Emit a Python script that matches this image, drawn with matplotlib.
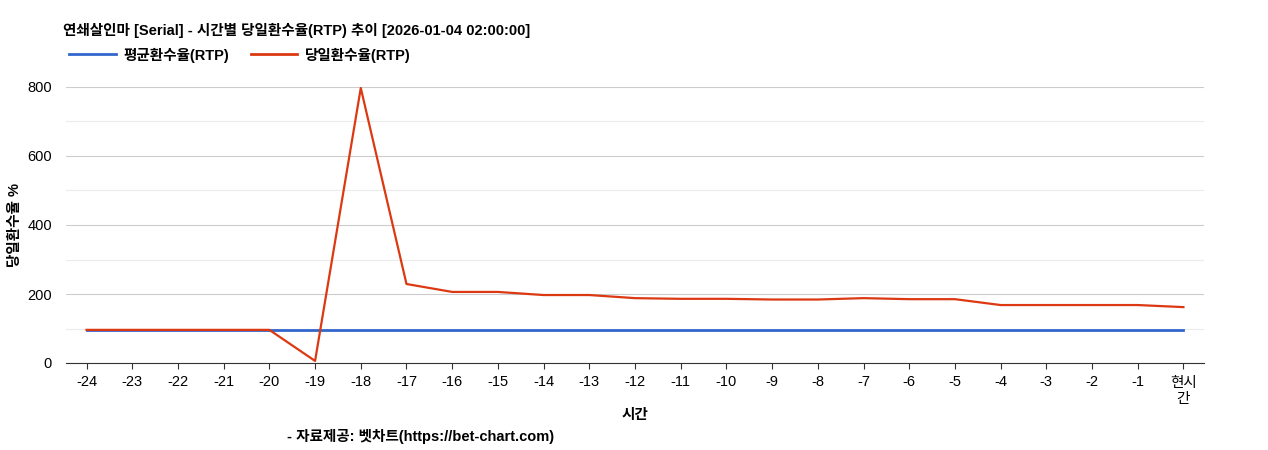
import matplotlib
matplotlib.use("Agg")
from matplotlib import pyplot as plt
from matplotlib.lines import Line2D

plt.rcParams["font.family"] = ["Liberation Sans", "Noto Sans CJK KR", "DejaVu Sans"]

categories = [str(i) for i in range(-24, 0)] + ["현시\n간"]
avg_rtp = [96] * 25
day_rtp = [96, 96, 96, 96, 96, 6, 797, 229, 206, 206, 197, 197, 188, 186, 186,
           184, 184, 188, 185, 185, 168, 168, 168, 168, 162]

fig = plt.figure(figsize=(12.68, 4.5), dpi=100)
ax = fig.add_axes([66 / 1268, 1 - 363 / 450, (1204 - 66) / 1268, (363 - 87) / 450])

x = list(range(len(categories)))
ax.plot(x, avg_rtp, color="#3366cc", lw=2)
ax.plot(x, day_rtp, color="#dc3912", lw=1.6)

ax.set_xlim(-0.45, len(categories) - 0.55)
ax.set_ylim(0, 800)
ax.set_yticks([0, 200, 400, 600, 800])
ax.set_yticks([100, 300, 500, 700], minor=True)
ax.grid(axis="y", which="major", color="#cccccc", lw=0.8)
ax.grid(axis="y", which="minor", color="#ebebeb", lw=0.8)
ax.set_axisbelow(True)
ax.set_xticks(x)
ax.set_xticklabels(categories, fontsize=10.5)
ax.tick_params(axis="y", which="both", labelsize=10.5, length=0, pad=10)
ax.tick_params(axis="x", length=4, color="#333333", pad=5)
for s in ["top", "right", "left"]:
    ax.spines[s].set_visible(False)
ax.spines["bottom"].set_color("#333333")

fig.text(15 / 1268, 1 - 225 / 450, "당일환수율 %", rotation=90, ha="center", va="center",
         fontsize=10.5, fontweight="bold")
fig.text(635 / 1268, 1 - 415 / 450, "시간", ha="center", va="center",
         fontsize=10.5, fontweight="bold")
fig.text(421 / 1268, 1 - 437 / 450, "- 자료제공: 벳차트(https://bet-chart.com)",
         ha="center", va="center", fontsize=10.5, fontweight="bold")
fig.text(63 / 1268, 1 - 30 / 450, "연쇄살인마 [Serial] - 시간별 당일환수율(RTP) 추이 [2026-01-04 02:00:00]",
         ha="left", va="center", fontsize=10.5, fontweight="bold")

handles = [Line2D([], [], color="#3366cc", lw=2), Line2D([], [], color="#dc3912", lw=2)]
fig.legend(handles, ["평균환수율(RTP)", "당일환수율(RTP)"], loc="center left",
           bbox_to_anchor=(56 / 1268, 1 - 55 / 450), ncol=2, frameon=False,
           prop={"weight": "bold", "size": 10.5}, handlelength=3.2,
           handletextpad=0.5, columnspacing=1.5)

fig.savefig("out.png", dpi=100)
